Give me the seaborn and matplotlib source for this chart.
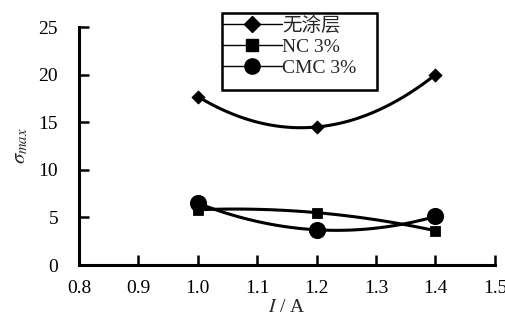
import matplotlib
matplotlib.use('Agg')
import matplotlib.pyplot as plt
import numpy as np
import pandas as pd
import seaborn as sns
from matplotlib.lines import Line2D
from matplotlib.patches import Rectangle

# 数据
current = [1.0, 1.2, 1.4]
no_coat = [17.7, 14.5, 20.0]
nc_3 = [5.8, 5.5, 3.6]
cmc_3 = [6.5, 3.7, 5.1]
labels = ['无涂层', 'NC 3%', 'CMC 3%']
markers = ['D', 's', 'o']
msizes = [45, 50, 130]
xticks = [0.8, 0.9, 1.0, 1.1, 1.2, 1.3, 1.4, 1.5]
yticks = [0, 5, 10, 15, 20, 25]

sns.set_style('white')
plt.rcParams['font.family'] = ['Liberation Serif', 'Noto Sans CJK SC']
plt.rcParams['mathtext.fontset'] = 'stix'

df = pd.DataFrame({'I': current * 3,
                   'sigma': no_coat + nc_3 + cmc_3,
                   'group': [l for l in labels for _ in current]})

fig = plt.figure(figsize=(5.06, 3.22), dpi=100)
ax = fig.add_axes([0.156, 0.177, 0.822, 0.739])

handles = []
for lab, mk, ms in zip(labels, markers, msizes):
    sub = df[df['group'] == lab]
    # 平滑曲线 (过三点的二次插值)
    coef = np.polyfit(sub['I'], sub['sigma'], 2)
    xs = np.linspace(sub['I'].min(), sub['I'].max(), 100)
    sns.lineplot(x=xs, y=np.polyval(coef, xs), ax=ax, color='black', lw=2.2)
    sns.scatterplot(data=sub, x='I', y='sigma', marker=mk, s=ms, color='black',
                    edgecolor='black', ax=ax, legend=False)
    handles.append(Line2D([], [], color='black', lw=1, marker=mk,
                          markersize=11 if mk == 'o' else 8, label=lab))

ax.set_xlim(0.8, 1.5)
ax.set_ylim(0, 25)
ax.set_xticks(xticks)
ax.set_xticklabels([f'{t:.1f}' for t in xticks])
ax.set_yticks(yticks)
for s in ['top', 'right']:
    ax.spines[s].set_visible(False)
for s in ['left', 'bottom']:
    ax.spines[s].set_linewidth(2.2)
    ax.spines[s].set_color('black')
ax.tick_params(bottom=True, left=True, direction='in', length=7, width=1.8,
               labelsize=14, pad=11, colors='black')
ax.tick_params(axis='y', pad=15)
ax.set_xlabel(r'$I$ / A', fontsize=14, labelpad=1)
ax.set_ylabel(r'$\sigma_{max}$', fontsize=15, labelpad=6)

# 图例 (边框单独画, 底部留空)
leg = ax.legend(handles=handles, loc='upper left',
                bbox_to_anchor=(0.344, 1.045, 0.37, 0.0), mode='expand',
                fontsize=14, frameon=False, handlelength=3.1,
                handletextpad=0.0, borderpad=0.0, labelspacing=0.19,
                borderaxespad=0)
fig.patches.append(Rectangle((0.4387, 0.7205), 0.3063, 0.2391,
                             transform=fig.transFigure, fill=False,
                             edgecolor='black', lw=1.8, zorder=5))

fig.savefig('out.png', dpi=100)
